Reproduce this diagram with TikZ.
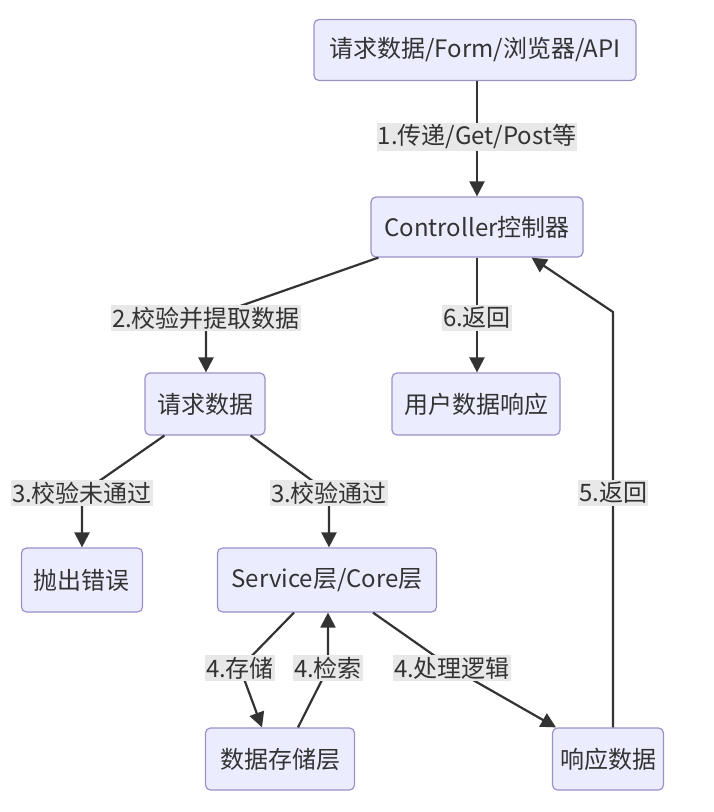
\documentclass[tikz,border=0pt]{standalone}
\usepackage{fontspec}
\setmainfont{Noto Sans CJK SC}
\usetikzlibrary{arrows.meta}
\definecolor{boxfill}{HTML}{ECECFF}
\definecolor{boxline}{HTML}{9C90C8}
\definecolor{ink}{HTML}{333333}
\definecolor{lblbg}{HTML}{E8E8E8}
\tikzset{
  box/.style={draw=boxline, fill=boxfill, rounded corners=5pt, line width=1.2pt,
    text=ink, font=\fontsize{24}{28}\selectfont, inner sep=0pt, anchor=center},
  lbl/.style={fill=lblbg, text=ink, font=\fontsize{24}{28}\selectfont,
    inner xsep=1pt, inner ysep=2pt, anchor=center},
  edge/.style={draw=ink, line width=2.2pt,
    -{Triangle[length=15pt,width=15pt]}, line join=round},
}
\begin{document}
\begin{tikzpicture}[x=1pt,y=-1pt]
\useasboundingbox (0,0) rectangle (714,812);
\fill[white] (0,0) rectangle (714,812);

% boxes
\node[box, minimum width=322pt, minimum height=61pt] (src)  at (475,50)  {请求数据/Form/浏览器/API};
\node[box, minimum width=212pt, minimum height=60pt] (ctrl) at (477,227) {Controller控制器};
\node[box, minimum width=120pt, minimum height=62pt] (req)  at (205,404) {请求数据};
\node[box, minimum width=168pt, minimum height=62pt] (user) at (476,404) {用户数据响应};
\node[box, minimum width=121pt, minimum height=64pt] (err)  at (82,580)  {抛出错误};
\node[box, minimum width=219pt, minimum height=64pt] (svc)  at (327,580) {Service层/Core层};
\node[box, minimum width=149pt, minimum height=62pt] (store) at (280,759) {数据存储层};
\node[box, minimum width=111pt, minimum height=62pt] (resp) at (608,759) {响应数据};

% bend points where the edge labels sit
\coordinate (b1) at (477,137);
\coordinate (b2) at (206,318);
\coordinate (b6) at (477,318);
\coordinate (b3a) at (82,493);
\coordinate (b3b) at (329,493);
\coordinate (b4a) at (240,668);
\coordinate (b4b) at (328,668);
\coordinate (b4c) at (452,668);
\coordinate (b5) at (613,493);
\coordinate (k5) at (613,312);

% connectors
\draw[edge] (src.south -| b1) -- (b1) -- (ctrl.north -| b1);
\draw[edge] ([xshift=8pt]ctrl.south west) -- (b2) -- (req.north -| b2);
\draw[edge] (ctrl.south -| b6) -- (b6) -- (user.north -| b6);
\draw[edge] ([xshift=20pt]req.south west) -- (b3a) -- (err.north -| b3a);
\draw[edge] ([xshift=-15pt]req.south east) -- (b3b) -- (svc.north -| b3b);
\draw[edge] (svc.south -| 294,0) -- (b4a) -- (store.north -| 262,0);
\draw[edge] (store.north -| 298,0) -- (b4b) -- (svc.south -| b4b);
\draw[edge] (svc.south -| 373,0) -- (b4c) -- (resp.north -| 556,0);
\draw[edge] (resp.north -| b5) -- (b5) -- (k5) -- ([xshift=-52pt]ctrl.south east);

% edge labels
\node[lbl] (l1) at (b1) {1.传递/Get/Post等};
\node[lbl] (l2) at (b2) {2.校验并提取数据};
\node[lbl] (l6) at (b6) {6.返回};
\node[lbl] (l3a) at (b3a) {3.校验未通过};
\node[lbl] (l3b) at (b3b) {3.校验通过};
\node[lbl] (l4a) at (b4a) {4.存储};
\node[lbl] (l4b) at (b4b) {4.检索};
\node[lbl] (l4c) at (b4c) {4.处理逻辑};
\node[lbl] (l5) at (b5) {5.返回};
\end{tikzpicture}
\end{document}
